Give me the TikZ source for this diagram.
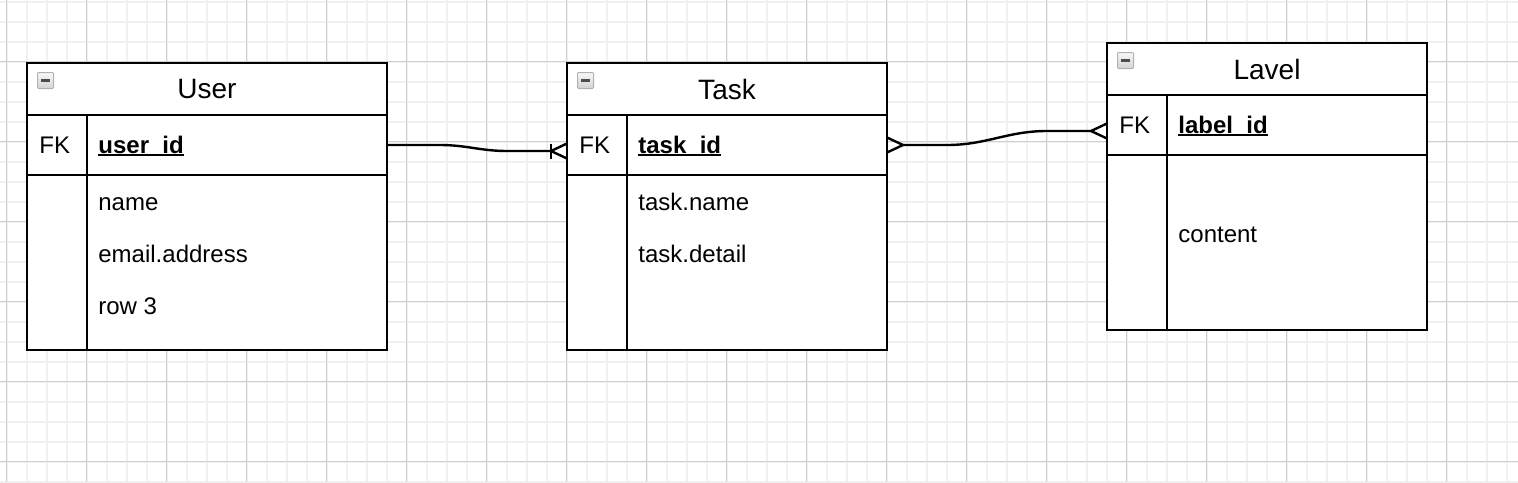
\documentclass[tikz,border=0pt]{standalone}
\usepackage{fontspec}
\setmainfont{Liberation Sans}
\usetikzlibrary{positioning,calc}

\newcommand\pkey[1]{\setbox0\hbox{\textbf{#1}}\rlap{\rule[-1.3pt]{\wd0}{1pt}}\box0}

\tikzset{
  entity/.style={draw, fill=white, line width=1.3pt, outer sep=0pt, inner sep=0pt},
  head/.style={entity, anchor=north west, minimum height=26pt, font=\fontsize{14}{17}\selectfont},
  keyrow/.style={entity, minimum height=30pt},
  body/.style={entity, minimum height=87.5pt},
  field/.style={inner sep=0pt, anchor=base west, font=\fontsize{12}{14}\selectfont},
  icon/.style={draw=gray!60, line width=0.5pt, top color=gray!5, bottom color=gray!35,
    minimum size=8pt, inner sep=0pt, anchor=north west, rounded corners=0.5pt,
    path picture={\draw[black!70, line width=1.3pt]
      ([xshift=1.6pt]path picture bounding box.west) -- ([xshift=-1.6pt]path picture bounding box.east);}},
  erline/.style={line width=1.2pt},
  minor/.style={draw=black!6, line width=0.8pt},
  major/.style={draw=black!19, line width=0.5pt},
  many/.pic={\draw[erline] (0,3.75pt) -- (-8pt,0) -- (0,-3.75pt);},
  one/.pic={\draw[erline] (-8pt,3.75pt) -- (-8pt,-3.75pt);}
}

\begin{document}
\begin{tikzpicture}[x=0.5pt, y=-0.5pt, node distance=0pt]
\useasboundingbox (0,0) rectangle (1518,482);
\fill[white] (0,0) rectangle (1518,482);
% grid
\foreach \x in {6.7,26.7,...,1518} \draw[minor] (\x,0) -- (\x,482);
\foreach \y in {1.7,21.7,...,482} \draw[minor] (0,\y) -- (1518,\y);
\foreach \x in {6.7,86.7,...,1518} \draw[major] (\x,0) -- (\x,482);
\foreach \y in {61.7,141.7,...,482} \draw[major] (0,\y) -- (1518,\y);

% User
\node[head, minimum width=180pt] (user) at (27,63) {User};
\node[keyrow, minimum width=180pt, below=of user] (user key) {};
\node[body, minimum width=180pt, below=of user key] (user body) {};
\draw[entity] ($(user key.north west)+(30pt,0)$) -- ($(user body.south west)+(30pt,0)$);
\node[icon] (user icon) at ($(user.north west)+(5pt,-4.5pt)$) {};
\node[field, right=6pt of user key.west] (user fk) {FK};
\node[field] (user id) at ($(user fk.base west)+(29.5pt,0)$) {\pkey{user\_id}};
\node[field] (user name) at ($(user body.north west)+(35.5pt,-17.5pt)$) {name};
\node[field] (user mail) at ($(user name.base west)+(0,-26pt)$) {email.address};
\node[field] (user row) at ($(user mail.base west)+(0,-26pt)$) {row 3};

% Task
\node[head, minimum width=160pt] (task) at (567,63) {Task};
\node[keyrow, minimum width=160pt, below=of task] (task key) {};
\node[body, minimum width=160pt, below=of task key] (task body) {};
\draw[entity] ($(task key.north west)+(30pt,0)$) -- ($(task body.south west)+(30pt,0)$);
\node[icon] (task icon) at ($(task.north west)+(5pt,-4.5pt)$) {};
\node[field, right=6pt of task key.west] (task fk) {FK};
\node[field] (task id) at ($(task fk.base west)+(29.5pt,0)$) {\pkey{task\_id}};
\node[field] (task name) at ($(task body.north west)+(35.5pt,-17.5pt)$) {task.name};
\node[field] (task detail) at ($(task name.base west)+(0,-26pt)$) {task.detail};

% Lavel
\node[head, minimum width=160pt] (lavel) at (1107,43) {Lavel};
\node[keyrow, minimum width=160pt, below=of lavel] (lavel key) {};
\node[body, minimum width=160pt, below=of lavel key] (lavel body) {};
\draw[entity] ($(lavel key.north west)+(30pt,0)$) -- ($(lavel body.south west)+(30pt,0)$);
\node[icon] (lavel icon) at ($(lavel.north west)+(5pt,-4.5pt)$) {};
\node[field, right=6pt of lavel key.west] (lavel fk) {FK};
\node[field] (lavel id) at ($(lavel fk.base west)+(29.5pt,0)$) {\pkey{label\_id}};
\node[field] (lavel content) at ($(lavel body.north west)+(35.5pt,-43.5pt)$) {content};

% relations
\coordinate (task in) at ($(task key.west)+(0,-3pt)$);
\coordinate (lavel in) at ($(lavel key.west)+(0,-3pt)$);
\draw[erline] (user key.east) -- ++(26.5pt,0) to[out=0,in=180] ($(task in)+(-30pt,0)$) -- ($(task in)+(-8pt,0)$);
\pic at (task in) {many};
\pic at (task in) {one};
\draw[erline] ($(task key.east)+(8pt,0)$) -- ++(22pt,0) to[out=0,in=180] ($(lavel in)+(-30pt,0)$) -- ($(lavel in)+(-8pt,0)$);
\pic[rotate=180] at (task key.east) {many};
\pic at (lavel in) {many};
\end{tikzpicture}
\end{document}
